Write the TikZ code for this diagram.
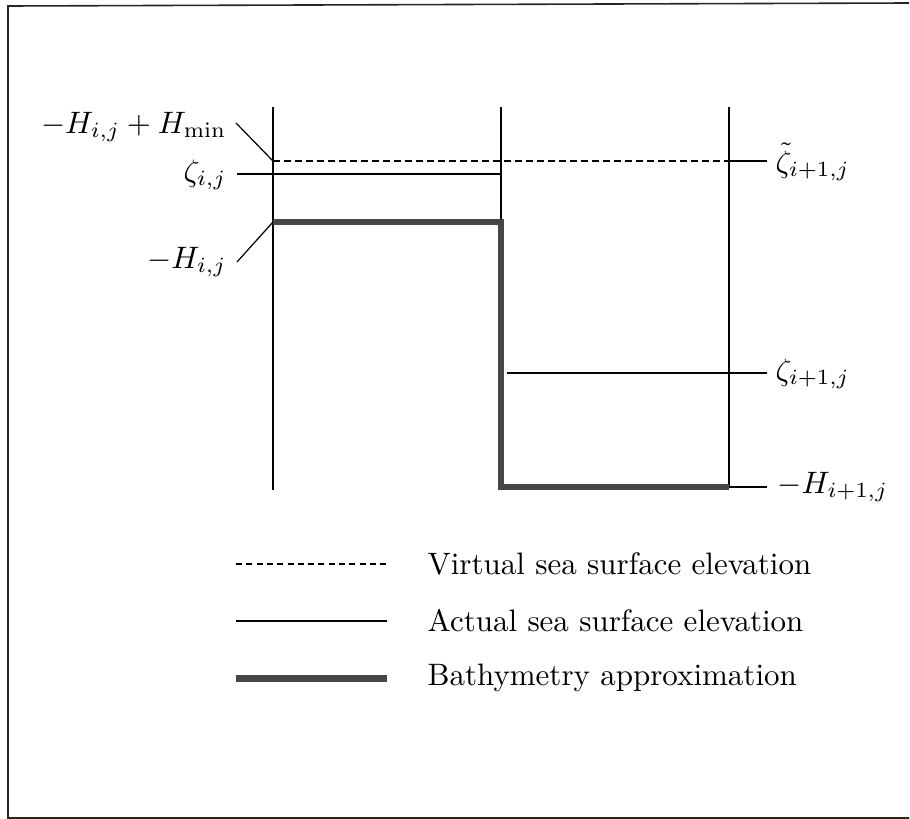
\documentclass[tikz,border=0pt]{standalone}
\begin{document}
\begin{tikzpicture}[x=1pt,y=-1pt,
  thin line/.style={line width=1.2pt,black},
  bathy/.style={line width=6pt,color=black!72,line cap=butt,line join=miter},
  virt/.style={line width=1.2pt,black,dash pattern=on 7pt off 4pt},
  lbl/.style={inner sep=0pt,scale=3.1},
  frame/.style={line width=1.6pt,black!85}]
\useasboundingbox (0,0) rectangle (910,819);
% frame
\draw[frame] (909,3) -- (8,6) -- (8,818) -- (909,818);
% coordinates
\coordinate (A1) at (273,107); \coordinate (A2) at (273,490);
\coordinate (B1) at (501,107); \coordinate (B2) at (501,490);
\coordinate (C1) at (729,107); \coordinate (C2) at (729,487);
\coordinate (dL) at (273,161); \coordinate (dR) at (729,161);
\coordinate (tR) at (767,161);
\coordinate (zL) at (237,174); \coordinate (zR) at (501,174);
\coordinate (bTL) at (273,222); \coordinate (bTR) at (501,222);
\coordinate (bBL) at (501,487); \coordinate (bBR) at (729,487);
\coordinate (hR) at (767,487);
\coordinate (z2L) at (507,373); \coordinate (z2R) at (767,373);
% cell walls
\draw[thin line] (A1) -- (A2);
\draw[thin line] (B1) -- (B2);
\draw[thin line] (C1) -- (C2);
% virtual surface
\draw[virt] (dL) -- (dR);
\draw[thin line] (dR) -- (tR);
% actual surface i,j
\draw[thin line] (zL) -- (zR);
% actual surface i+1,j
\draw[thin line] (z2L) -- (z2R);
% bathymetry
\draw[bathy] (bTL) -- (bTR) -- (bBL) -- (bBR);
\draw[thin line] (bBR) -- (hR);
% labels left
\node[lbl,anchor=base east] (lHmin) at (227,133) {$-H_{i,j}+H_{\min}$};
\node[lbl,anchor=base east] (lz) at (227,181) {$\zeta_{i,j}$};
\node[lbl,anchor=base east] (lH) at (227,268) {$-H_{i,j}$};
\draw[thin line] (236,123) -- (dL);
\draw[thin line] (237,262) -- (bTL);
% labels right
\node[lbl,anchor=base west] (ltz) at (775,172) {$\tilde\zeta_{i+1,j}$};
\node[lbl,anchor=base west] (lz2) at (775,380) {$\zeta_{i+1,j}$};
\node[lbl,anchor=base west] (lH2) at (777,493) {$-H_{i+1,j}$};
% legend
\coordinate (g1a) at (236,564); \coordinate (g1b) at (387,564);
\coordinate (g2a) at (236,621); \coordinate (g2b) at (387,621);
\coordinate (g3a) at (236,678); \coordinate (g3b) at (387,678);
\draw[line width=1.2pt,dash pattern=on 6pt off 4.3pt] (g1a) -- (g1b);
\draw[thin line] (g2a) -- (g2b);
\draw[bathy,line width=7pt] (g3a) -- (g3b);
\node[lbl,anchor=base west] (t1) at (427,574) {Virtual sea surface elevation};
\node[lbl,anchor=base west] (t2) at (427,631) {Actual sea surface elevation};
\node[lbl,anchor=base west] (t3) at (427,685) {Bathymetry approximation};
\end{tikzpicture}
\end{document}
